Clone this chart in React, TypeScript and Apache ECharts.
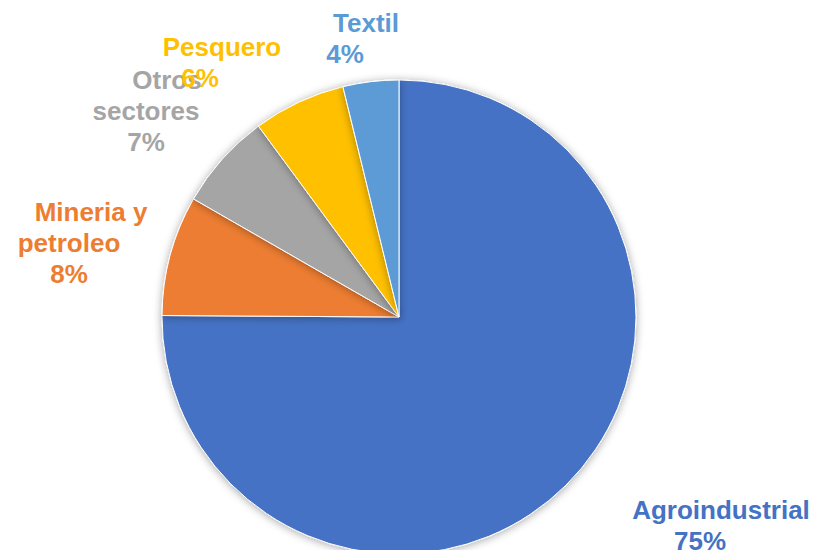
import React, { useEffect, useRef } from "react";
import * as echarts from "echarts";

const categories = ["Agroindustrial", "Mineria y petroleo", "Otros sectores", "Pesquero", "Textil"];
const values = [75.1, 8.2, 6.6, 6.3, 3.8];
const colors = ["#4472C4", "#ED7D31", "#A5A5A5", "#FFC000", "#5B9BD5"];
const nameLines = [["Agroindustrial"], ["Mineria y", "petroleo"], ["Otros", "sectores"], ["Pesquero"], ["Textil"]];
// label block centers (x, y) and per-line offsets
const labelPos = [
  [721, 525],
  [69, 243],
  [146, 111],
  [222, 62],
  [366, 38],
];
const firstLinePadLeft = [0, 44, 42, 0, 0];
const pctPadRight = [42, 0, 0, 44, 42];

export default function App() {
  const ref = useRef<HTMLDivElement>(null);
  useEffect(() => {
    if (!ref.current) return;
    const chart = echarts.init(ref.current, null, { renderer: "svg" });
    const font = "'Liberation Sans', Arial, sans-serif";
    const data = categories.map((c, i) => {
      const lines = nameLines[i];
      const rich: any = {
        a: { fontSize: 26, fontWeight: "bold", color: colors[i], fontFamily: font, lineHeight: 31, padding: [0, 0, 0, firstLinePadLeft[i]] },
        b: { fontSize: 26, fontWeight: "bold", color: colors[i], fontFamily: font, lineHeight: 31 },
        p: { fontSize: 26, fontWeight: "bold", color: colors[i], fontFamily: font, lineHeight: 31, padding: [0, pctPadRight[i], 0, 0] },
      };
      return {
        name: c,
        value: values[i],
        itemStyle: { color: colors[i] },
        label: {
          formatter: (p: any) => {
            const parts = lines.map((l, k) => (k === 0 ? `{a|${l}}` : `{b|${l}}`));
            parts.push(`{p|${Math.round(p.percent)}%}`);
            return parts.join("\n");
          },
          rich,
        },
      };
    });
    chart.setOption({
      animation: false,
      backgroundColor: "#ffffff",
      series: [
        {
          type: "pie",
          center: [399, 317],
          radius: 237,
          startAngle: 90,
          clockwise: true,
          data,
          itemStyle: {
            borderColor: "#ffffff",
            borderWidth: 1,
            shadowBlur: 8,
            shadowColor: "rgba(0,0,0,0.35)",
            shadowOffsetY: 1,
          },
          label: { show: true, position: "outside", align: "center", overflow: "none", width: 300 },
          labelLine: { show: false },
          labelLayout: (params: any) => {
            const pos = labelPos[params.dataIndex];
            return { x: pos[0], y: pos[1], align: "center", verticalAlign: "middle" };
          },
          emphasis: { disabled: true },
        },
      ],
    });
    return () => chart.dispose();
  }, []);
  return <div ref={ref} style={{ position: "fixed", left: 0, top: 0, width: 814, height: 550 }} />;
}
